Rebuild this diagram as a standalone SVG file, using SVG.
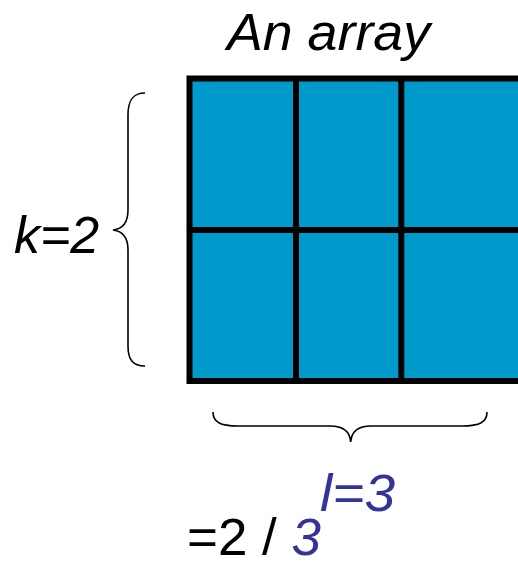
<svg xmlns="http://www.w3.org/2000/svg" width="518" height="566" viewBox="0 0 518 566">
<style>
.t{font-family:"Liberation Sans",Arial,sans-serif;font-size:52px;fill:#000}
.i{font-style:italic}
.b{fill:#333399}
.cell{fill:#0099CC}
.grid{fill:none;stroke:#000;stroke-width:6}
.brace{fill:none;stroke:#000;stroke-width:1.6}
</style>
<rect width="518" height="566" fill="#fff"/>
<g id="title"><text class="t i" x="227" y="50" textLength="203" lengthAdjust="spacingAndGlyphs">An array</text></g>
<g id="array">
<rect class="cell" x="189.5" y="78.5" width="340" height="302.5"/>
<rect class="grid" x="189.5" y="78.5" width="340" height="302.5"/>
<line class="grid" x1="189.5" y1="230" x2="530" y2="230"/>
<line class="grid" x1="296" y1="78.5" x2="296" y2="381"/>
<line class="grid" x1="401.3" y1="78.5" x2="401.3" y2="381"/>
</g>
<g id="connectors">
<path class="brace" d="M145,93 C133,93 128,100 128,115 L128,210 C128,224 122,229 113,230 C122,231 128,236 128,250 L128,346 C128,360 133,366 145,366"/>
<path class="brace" d="M213,412 C213,422 220,426 238,426 L330,426 C344,426 350,432 350.7,442 C351.4,432 357,426 371,426 L462,426 C480,426 487,422 487,412"/>
</g>
<g id="k-label"><text class="t i" x="14" y="253">k=2</text></g>
<g id="l-label"><text class="t i b" x="320" y="511" textLength="75" lengthAdjust="spacingAndGlyphs">l=3</text></g>
<g id="ratio"><text class="t" x="187" y="555" textLength="134" lengthAdjust="spacingAndGlyphs">=2 / <tspan class="b i">3</tspan></text></g>
</svg>
